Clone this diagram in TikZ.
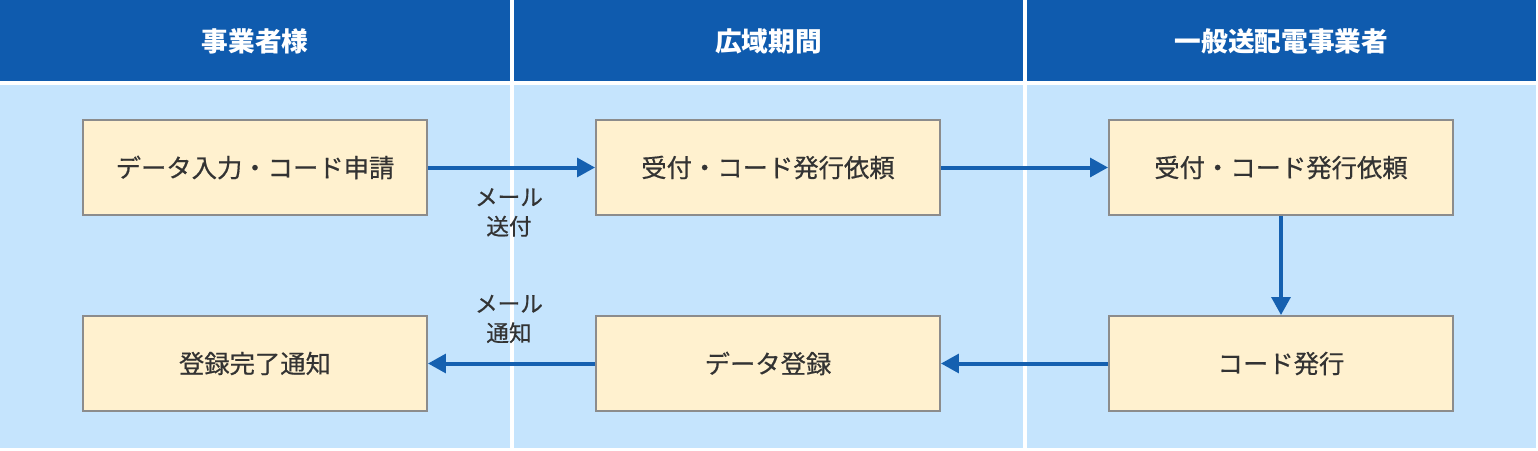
\documentclass[tikz,border=0pt]{standalone}
\usepackage{fontspec}
\setmainfont{Noto Sans CJK JP}
\newfontfamily\medfont{Noto Sans CJK JP}[FakeBold=0.5]
\usetikzlibrary{arrows.meta}
\definecolor{hdrblue}{HTML}{0F5BAE}
\definecolor{bodyblue}{HTML}{C5E4FD}
\definecolor{boxfill}{HTML}{FFF1CF}
\definecolor{boxline}{HTML}{8C8C8C}
\definecolor{arrowblue}{HTML}{1560B0}
\definecolor{textdark}{HTML}{333333}
\begin{document}
\begin{tikzpicture}[x=0.75pt,y=-0.75pt,
  header/.style={fill=hdrblue,draw=none},
  lane/.style={fill=bodyblue,draw=none},
  hdrtext/.style={text=white,font=\fontsize{20}{24}\selectfont\bfseries},
  stepbox/.style={draw=boxline,line width=1.4pt,fill=boxfill,minimum width=258pt,minimum height=71.25pt,inner sep=0pt,text=textdark,font=\medfont\fontsize{19}{23}\selectfont},
  flow/.style={draw=arrowblue,line width=3pt,-{Triangle[length=13.5pt,width=14pt]}},
  lbl/.style={text=textdark,font=\medfont\fontsize{17}{22}\selectfont,align=center,inner sep=0pt}
]
\useasboundingbox (0,0) rectangle (1538,450);
% header
\fill[header] (0,0) rectangle (510,81);
\fill[header] (514,0) rectangle (1023,81);
\fill[header] (1027,0) rectangle (1536,81);
% lanes
\fill[lane] (0,85) rectangle (510,448);
\fill[lane] (514,85) rectangle (1023,448);
\fill[lane] (1027,85) rectangle (1536,448);
% header labels
\node[hdrtext] (h1) at (255,41) {事業者様};
\node[hdrtext] (h2) at (768.5,41) {広域期間};
\node[hdrtext] (h3) at (1281.5,41) {一般送配電事業者};
% boxes
\node[stepbox] (a1) at (255,167.5) {データ入力・コード申請};
\node[stepbox] (a2) at (768,167.5) {受付・コード発行依頼};
\node[stepbox] (a3) at (1281,167.5) {受付・コード発行依頼};
\node[stepbox] (b1) at (255,363.5) {登録完了通知};
\node[stepbox] (b2) at (768,363.5) {データ登録};
\node[stepbox] (b3) at (1281,363.5) {コード発行};
% arrows
\draw[flow] (a1.east) -- (a2.west);
\draw[flow] (a2.east) -- (a3.west);
\draw[flow] (a3.south) -- (b3.north);
\draw[flow] (b3.west) -- (b2.east);
\draw[flow] (b2.west) -- (b1.east);
% labels
\node[lbl] (l1) at (509,212.5) {メール\\送付};
\node[lbl] (l2) at (509,319) {メール\\通知};
\end{tikzpicture}
\end{document}
